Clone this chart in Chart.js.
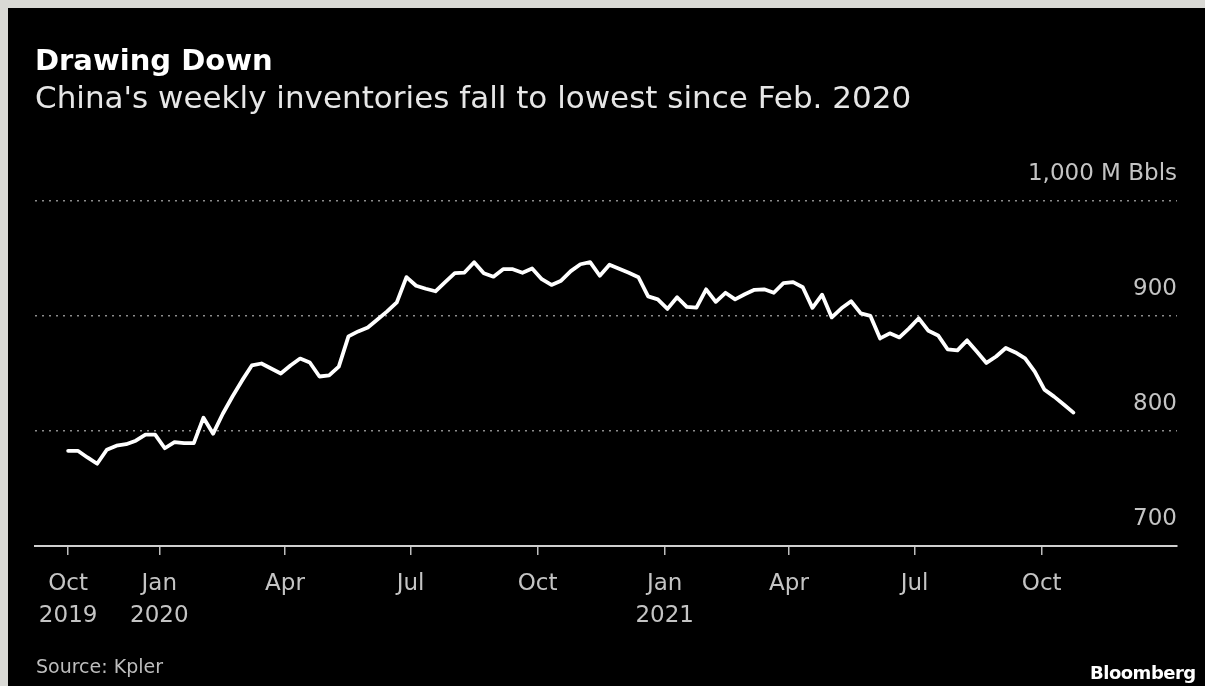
<!DOCTYPE html>
<html>
<head>
<meta charset="utf-8">
<script src="https://cdn.jsdelivr.net/npm/chart.js@4/dist/chart.umd.min.js"></script>
<style>
  html, body { margin: 0; padding: 0; }
  body { width: 1205px; height: 686px; background: #d9d9d5; position: relative; overflow: hidden; font-family: "DejaVu Sans", sans-serif; }
  #panel { position: absolute; left: 8px; top: 8px; width: 1197px; height: 678px; background: #000; }
  #wrap { position: absolute; left: 0; top: 0; width: 1205px; height: 686px; }
  .txt { position: absolute; white-space: nowrap; line-height: 1; }
  #title { left: 35px; top: 46px; font-size: 29px; font-weight: bold; color: #fff; }
  #subtitle { left: 35px; top: 82px; font-size: 31px; color: #e6e6e6; }
  #source { left: 36px; top: 657px; font-size: 19px; color: #bdbdbd; }
  #brand { left: 1090px; top: 664px; font-size: 18px; font-weight: bold; color: #fff; letter-spacing: -0.5px; }
</style>
</head>
<body>
<div id="panel"></div>
<div id="wrap"><canvas id="chart"></canvas></div>
<div class="txt" id="title">Drawing Down</div>
<div class="txt" id="subtitle">China's weekly inventories fall to lowest since Feb. 2020</div>
<div class="txt" id="source">Source: Kpler</div>
<div class="txt" id="brand">Bloomberg</div>

<script>
// China weekly crude inventories, million barrels (weekly, from 2019-10-27)
const firstWeek = '2019-10-27';
const inventories = [
    782.8, 782.8, 777.0, 771.5, 783.7, 787.2, 788.5, 791.6, 796.8, 796.8,
    785.0, 790.3, 789.4, 789.4, 811.6, 797.7, 815.0, 830.0, 844.0, 857.0,
    858.7, 854.4, 850.0, 857.0, 863.0, 859.6, 847.4, 848.3, 856.0, 882.3,
    886.6, 890.0, 897.0, 904.0, 911.9, 933.8, 926.3, 923.7, 921.5, 929.4,
    937.2, 937.8, 946.8, 937.2, 934.2, 940.7, 940.7, 937.6, 941.3, 932.0,
    927.0, 930.7, 939.0, 945.0, 946.8, 935.0, 944.6, 941.1, 937.6, 933.7,
    917.1, 914.5, 906.2, 916.3, 908.0, 907.3, 923.2, 912.3, 920.2, 914.5,
    918.9, 922.8, 923.2, 920.2, 928.5, 929.4, 925.0, 907.1, 918.5, 898.8,
    906.7, 912.8, 902.3, 900.1, 880.5, 884.9, 881.4, 889.2, 898.0, 887.1,
    883.1, 870.9, 870.1, 878.8, 869.2, 859.2, 864.8, 872.2, 868.3, 863.1,
    851.7, 836.0, 829.9, 823.0, 816.0
];

// x-axis ticks
const tickDates = ['2019-10-27', '2020-01-01', '2020-04-01', '2020-07-01', '2020-10-01',
                   '2021-01-01', '2021-04-01', '2021-07-01', '2021-10-01'];
const tickLabels = [['Oct', '2019'], ['Jan', '2020'], 'Apr', 'Jul', 'Oct',
                    ['Jan', '2021'], 'Apr', 'Jul', 'Oct'];

// y-axis ticks
const yTicks = [700, 800, 900, 1000];
const yUnit = ' M Bbls';

const ORIGIN = Date.UTC(2019, 9, 1);

function dayOf(s) {
    const p = s.split('-');
    return (Date.UTC(+p[0], +p[1] - 1, +p[2]) - ORIGIN) / 86400000;
}

const startDay = dayOf(firstWeek);
const points = inventories.map((v, i) => ({ x: startDay + 7 * i, y: v }));
const tickDays = tickDates.map(dayOf);

const ctx = document.getElementById('chart').getContext('2d');
new Chart(ctx, {
    type: 'line',
    data: {
        datasets: [{
            label: 'Inventories',
            data: points,
            borderColor: '#ffffff',
            borderWidth: 3.8,
            borderJoinStyle: 'round',
            borderCapStyle: 'round',
            pointRadius: 0,
            tension: 0,
            fill: false
        }]
    },
    options: {
        responsive: true,
        maintainAspectRatio: false,
        animation: false,
        layout: { padding: { left: 35, right: 28, top: 201, bottom: 0 } },
        plugins: {
            legend: { display: false },
            tooltip: { enabled: false }
        },
        scales: {
            x: {
                type: 'linear',
                min: 2,
                max: 829,
                afterBuildTicks: function(axis) {
                    axis.ticks = tickDays.map(d => ({ value: d }));
                },
                afterFit: function(axis) {
                    axis.height = 140;
                },
                ticks: {
                    color: '#c4c4c4',
                    font: { family: 'DejaVu Sans', size: 23, lineHeight: 1.38 },
                    padding: 13,
                    maxRotation: 0,
                    autoSkip: false,
                    callback: function(value, index) {
                        return tickLabels[index];
                    }
                },
                grid: {
                    drawOnChartArea: false,
                    drawTicks: true,
                    tickLength: 9,
                    color: '#bdbdbd',
                    lineWidth: 1.5
                },
                border: { display: true, color: '#cfcfcf', width: 2 }
            },
            y: {
                position: 'right',
                min: 700,
                max: 1000,
                afterBuildTicks: function(axis) {
                    axis.ticks = yTicks.map(v => ({ value: v }));
                },
                afterFit: function(axis) {
                    axis.width = 0;
                },
                ticks: {
                    mirror: true,
                    padding: 0,
                    labelOffset: -27,
                    color: '#c4c4c4',
                    font: { family: 'DejaVu Sans', size: 23 },
                    callback: function(value) {
                        return value === 1000 ? '1,000' + yUnit : String(value);
                    }
                },
                grid: {
                    drawTicks: false,
                    lineWidth: 1.5,
                    color: function(c) {
                        return c.tick && c.tick.value === 700 ? 'rgba(0,0,0,0)' : '#8c8c8c';
                    }
                },
                border: { display: false, dash: [2, 5] }
            }
        }
    }
});
</script>
</body>
</html>
